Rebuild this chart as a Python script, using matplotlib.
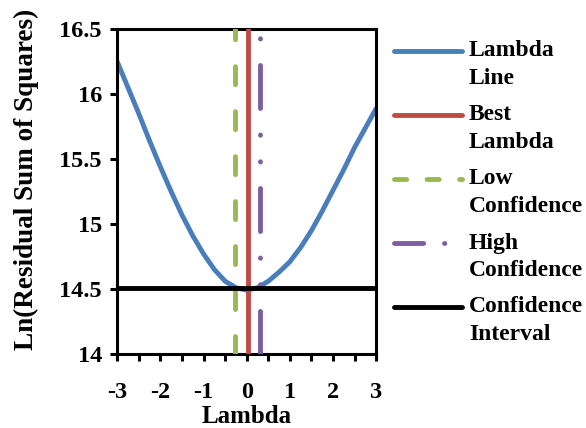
import matplotlib
matplotlib.use('Agg')
import matplotlib.pyplot as plt
from matplotlib.lines import Line2D
from matplotlib.ticker import MultipleLocator, FormatStrFormatter

plt.rcParams['font.family'] = ['Liberation Serif', 'DejaVu Serif']
plt.rcParams['font.weight'] = 'bold'
plt.rcParams['axes.unicode_minus'] = False

# profile of ln(RSS) against Box-Cox lambda
lam = [-3, -2.75, -2.5, -2.25, -2, -1.75, -1.5, -1.25, -1, -0.75, -0.5, -0.25,
       0, 0.25, 0.5, 0.75, 1, 1.25, 1.5, 1.75, 2, 2.25, 2.5, 2.75, 3]
ln_rss = [16.25, 16.05, 15.85, 15.64, 15.44, 15.25, 15.07, 14.91, 14.77, 14.65,
          14.56, 14.51, 14.49, 14.51, 14.56, 14.63, 14.71, 14.82, 14.95, 15.10,
          15.26, 15.42, 15.59, 15.74, 15.89]
best_lambda = 0.02
low_conf = -0.26
high_conf = 0.31
conf_level = 14.51

BLUE, RED, GREEN, PURPLE = '#4A7EBB', '#BE4B48', '#98B954', '#7D5FA0'
LW = 3.5
DASH_LOW = (3.7, 5.55)
DASH_HIGH = (8.85, 5.45, 0.05, 5.45, 0.05, 5.45)

fig = plt.figure(figsize=(5.86, 4.28), dpi=100)
ax = fig.add_axes([0.200, 0.173, 0.442, 0.759])

ax.plot(lam, ln_rss, color=BLUE, lw=LW, solid_capstyle='round',
        solid_joinstyle='round', zorder=2)
ax.plot([best_lambda, best_lambda], [14, 16.5], color=RED, lw=LW, zorder=3)
ax.plot([low_conf, low_conf], [14, 16.5], color=GREEN, lw=LW,
        dashes=DASH_LOW, dash_capstyle='round', zorder=3)
ax.plot([high_conf, high_conf], [14, 16.5], color=PURPLE, lw=LW,
        dashes=DASH_HIGH, dash_capstyle='round', zorder=3)
ax.plot([-3, 3], [conf_level, conf_level], color='black', lw=LW, zorder=4)

ax.set_xlim(-3, 3)
ax.set_ylim(14, 16.5)
ax.xaxis.set_major_locator(MultipleLocator(1))
ax.xaxis.set_minor_locator(MultipleLocator(0.5))
ax.yaxis.set_major_locator(MultipleLocator(0.5))
ax.yaxis.set_major_formatter(FormatStrFormatter('%g'))
ax.xaxis.set_major_formatter(FormatStrFormatter('%g'))

for s in ax.spines.values():
    s.set_linewidth(2.2)
ax.tick_params(axis='both', which='both', direction='out', width=2.2, length=5,
               labelsize=17.5)
ax.tick_params(axis='x', which='major', pad=15)
ax.tick_params(axis='y', pad=6)

ax.set_xlabel('Lambda', fontsize=18, fontweight='bold')
ax.xaxis.set_label_coords(0.5, -(423 - 354) / 325)
ax.xaxis.label.set_va('baseline')
ax.set_ylabel('Ln(Residual Sum of Squares)', fontsize=19.5, fontweight='bold')
ax.yaxis.set_label_coords((26 - 117) / 259, (354 - 179) / 325)
ax.yaxis.label.set_va('center')

# legend, handle aligned with the first line of each label
W, H = 586, 428
entries = [
    ('Lambda\nLine', dict(color=BLUE)),
    ('Best\nLambda', dict(color=RED)),
    ('Low\nConfidence', dict(color=GREEN, dashes=(2.5, 4.2), dash_capstyle='round')),
    ('High\nConfidence', dict(color=PURPLE, dashes=(6.0, 4.3, 0.05, 10),
                              dash_capstyle='round')),
    ('Confidence\nInterval', dict(color='black')),
]
y0 = 51
for i, (label, style) in enumerate(entries):
    py = y0 + i * 64
    fig.add_artist(Line2D([394 / W, 462 / W], [1 - py / H, 1 - py / H],
                          lw=LW, solid_capstyle='round', **style))
    for j, part in enumerate(label.split('\n')):
        fig.text(469 / W, 1 - (py + j * 28) / H, part, fontsize=17,
                 fontweight='bold', ha='left', va='center')

fig.savefig('out.png', dpi=100, facecolor='white')
